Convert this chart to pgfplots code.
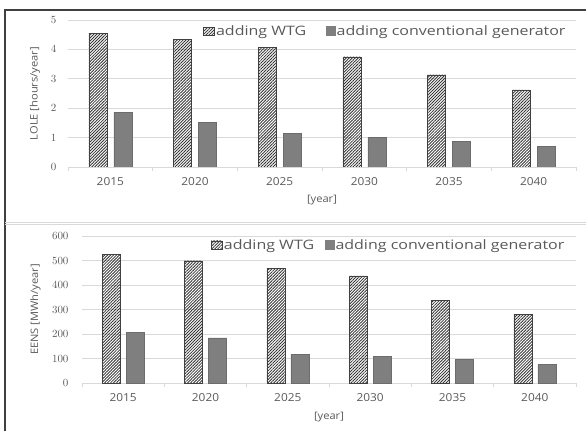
\documentclass[border=0pt]{standalone}
\usepackage{fontspec}
\setmainfont{Open Sans}
\newfontfamily\legfont{Open Sans}[FakeStretch=1.23]
\newfontfamily\tickfont{Open Sans}[FakeStretch=1.08]
\usepackage{pgfplots}
\pgfplotsset{compat=1.18}
\usetikzlibrary{patterns.meta}
\definecolor{txt}{HTML}{595959}
\definecolor{gridc}{HTML}{D9D9D9}
\definecolor{barg}{HTML}{7F7F7F}
\definecolor{framec}{HTML}{404040}

\pgfplotstableread{
x wtg conv
0 4.55 1.86
1 4.34 1.52
2 4.07 1.15
3 3.75 1.02
4 3.14 0.87
5 2.62 0.71
}\lole
\pgfplotstableread{
x wtg conv
0 526 206
1 499 184
2 468 117
3 437 108
4 338 96
5 280 75
}\eens

\pgfplotsset{
  mystyle/.style={
    scale only axis, ybar,
    xmin=-0.5, xmax=5.5,
    xtick={0,...,5}, xticklabels={2015,2020,2025,2030,2035,2040},
    minor xtick={-0.5,0.5,...,5.5},
    major tick length=0pt, minor tick length=4pt, tick align=outside,
    axis x line*=bottom, axis y line*=left,
    y axis line style={draw=none},
    x axis line style={draw=gridc, line width=0.8pt},
    minor x tick style={draw=gridc, line width=0.8pt},
    ytick style={draw=none},
    ymajorgrids, grid style={draw=gridc, line width=0.8pt},
    tick label style={font=\tickfont\fontsize{11}{13}\selectfont, text=txt},
    xticklabel style={anchor=center, yshift=-15pt},
    label style={font=\tickfont\fontsize{10.3}{12}\selectfont, text=txt},
    legend style={draw=none, fill=none, font=\legfont\fontsize{13}{15}\selectfont, text=txt,
      legend columns=2, legend cell align=left, nodes={inner sep=1.5pt}},
  },
  hatchbar/.style={draw=black!75, line width=0.3pt,
    pattern={Lines[angle=45,distance=2.1pt,line width=0.85pt]}, pattern color=black!80,
    legend image code/.code={\fill[pattern={Lines[angle=45,distance=2.1pt,line width=0.85pt]}, pattern color=black!75] (0pt,-4pt) rectangle (11pt,4pt);}},
  graybar/.style={fill=barg, draw=barg!85!black, line width=0.3pt,
    legend image code/.code={\fill[barg] (0pt,-4.5pt) rectangle (9pt,4.5pt);}},
}

\begin{document}
\begin{tikzpicture}
\path[use as bounding box] (0pt,0pt) rectangle (586pt,431pt);
% frame
\draw[framec, line width=1.3pt] (5pt,0pt) -- (5pt,421pt) -- (586pt,421pt);
\draw[gridc, line width=0.9pt] (5pt,208.7pt) -- (586pt,208.7pt);
\draw[gridc, line width=0.9pt] (5pt,206.3pt) -- (586pt,206.3pt);

\begin{axis}[mystyle,
  at={(68pt,264pt)}, anchor=south west,
  width=508pt, height=147pt,
  ymin=0, ymax=5, ytick={0,1,...,5},
  bar width=18pt, ybar=7pt,
  yticklabel style={anchor=east, xshift=-8pt},
  xlabel={[year]}, ylabel={LOLE [hours/year]},
  xlabel style={at={(axis description cs:0.5,-0.224)}, anchor=center},
  ylabel style={at={(axis description cs:-0.065,0.5)}, anchor=center},
  legend style={at={(axis description cs:0.26,0.925)}, anchor=west,
    /tikz/every even column/.append style={column sep=18pt}},
]
\addplot[hatchbar] table[x=x,y=wtg] {\lole};
\addplot[graybar] table[x=x,y=conv] {\lole};
\legend{adding WTG, adding conventional generator}
\end{axis}

\begin{axis}[mystyle,
  at={(82pt,48pt)}, anchor=south west,
  width=494pt, height=147pt,
  ymin=0, ymax=600, ytick={0,100,...,600},
  bar width=18pt, ybar=6pt,
  yticklabel style={anchor=east, xshift=-10pt},
  xlabel={[year]}, ylabel={EENS [MWh/year]},
  xlabel style={at={(axis description cs:0.5,-0.231)}, anchor=center},
  ylabel style={at={(axis description cs:-0.094,0.5)}, anchor=center},
  legend style={at={(axis description cs:0.255,0.939)}, anchor=west,
    /tikz/every even column/.append style={column sep=9pt}},
]
\addplot[hatchbar] table[x=x,y=wtg] {\eens};
\addplot[graybar] table[x=x,y=conv] {\eens};
\legend{adding WTG, adding conventional generator}
\end{axis}
\end{tikzpicture}
\end{document}
